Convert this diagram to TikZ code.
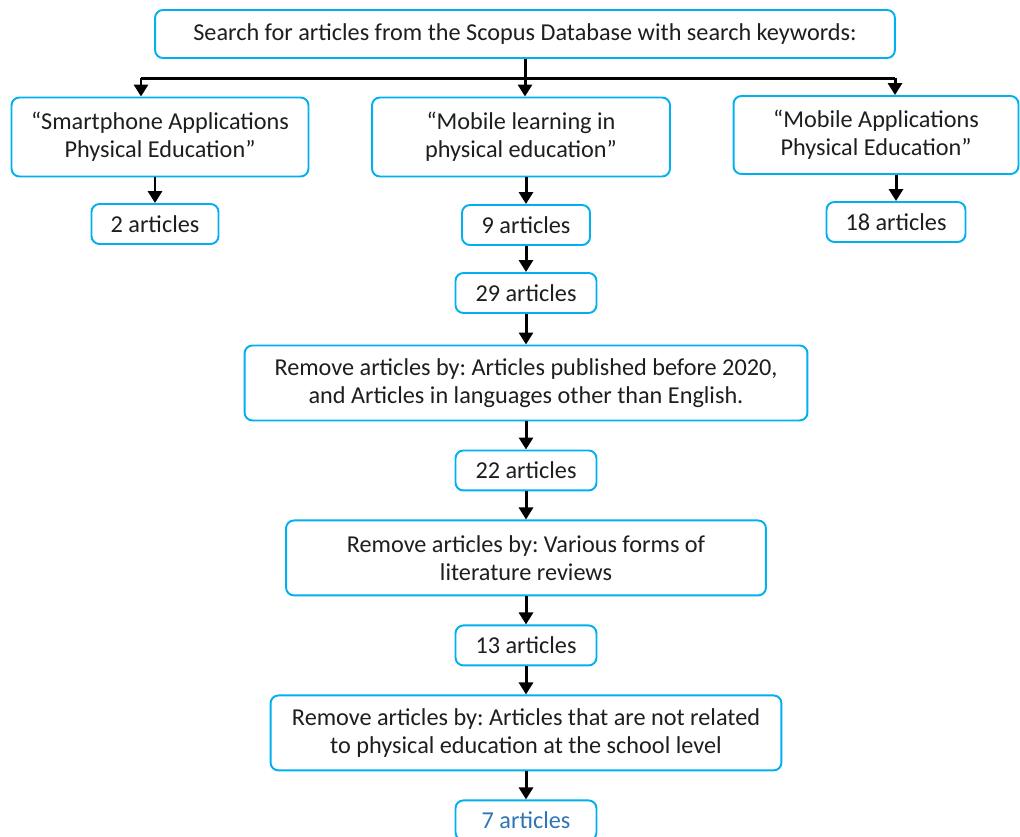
\documentclass[tikz,border=0pt]{standalone}
\usepackage{fontspec}
\setmainfont{Carlito}
\usetikzlibrary{arrows.meta,positioning}
\definecolor{boxcyan}{RGB}{0,176,240}
\definecolor{txtgray}{RGB}{30,30,30}
\definecolor{resultblue}{RGB}{46,117,182}
\frenchspacing
\begin{document}
\begin{tikzpicture}[
  x=0.02cm, y=-0.02cm,
  block/.style={rectangle, rounded corners=4.5pt, draw=boxcyan, line width=1.1pt, fill=white, align=center, text=txtgray, font=\fontsize{13.8}{16}\selectfont, inner sep=0pt},
  count/.style={block, minimum width=2.82cm, minimum height=0.8cm},
  filter/.style={block, minimum height=1.5cm},
  arrow/.style={-{Triangle[length=0.24cm,width=0.28cm]}, line width=1.7pt, black},
  node distance=1.75cm
]
\useasboundingbox (0,0) rectangle (1020,836);

\node[block, minimum width=14.8cm, minimum height=0.96cm] (search) at (525,34) {Search for articles from the Scopus Database with search keywords:};
\node[block, minimum width=5.94cm, minimum height=1.58cm] (kwleft) at (160,137) {“Smartphone Applications\\Physical Education”};
\node[block, minimum width=5.96cm, minimum height=1.58cm] (kwmid) at (521,137) {“Mobile learning in\\physical education”};
\node[block, minimum width=5.7cm, minimum height=1.56cm] (kwright) at (876,135) {“Mobile Applications\\Physical Education”};

\node[count, minimum width=2.54cm] (two) at (155,224) {2 articles};
\node[count, minimum width=2.56cm] (nine) at (526,225) {9 articles};
\node[count, minimum width=2.78cm] (eighteen) at (896,222) {18 articles};

\node[count, below of=nine, node distance=1.36cm] (twentynine) {29 articles};
\node[filter, minimum width=11.26cm, below of=twentynine, node distance=1.8cm] (filtyear) {Remove articles by: Articles published before 2020,\\and Articles in languages other than English.};
\node[count, below of=filtyear] (twentytwo) {22 articles};
\node[filter, minimum width=9.6cm, below of=twentytwo] (filtreview) {Remove articles by: Various forms of\\literature reviews};
\node[count, below of=filtreview] (thirteen) {13 articles};
\node[filter, minimum width=10.22cm, below of=thirteen] (filtschool) {Remove articles by: Articles that are not related\\to physical education at the school level};
\node[count, below of=filtschool, text=resultblue] (seven) {7 articles};

% branch to the three keyword searches
\coordinate (brleft) at (141,78);
\coordinate (brright) at (895,78);
\draw[line width=1.7pt] (brleft) -- (brright);
\draw[arrow] (search.south) -- (search.south |- kwmid.north);
\draw[arrow] (brleft) -- (brleft |- kwleft.north);
\draw[arrow] (brright) -- (brright |- kwright.north);

\draw[arrow] (two.north |- kwleft.south) -- (two);
\draw[arrow] (nine.north |- kwmid.south) -- (nine);
\draw[arrow] (eighteen.north |- kwright.south) -- (eighteen);

\draw[arrow] (nine) -- (twentynine);
\draw[arrow] (twentynine) -- (filtyear);
\draw[arrow] (filtyear) -- (twentytwo);
\draw[arrow] (twentytwo) -- (filtreview);
\draw[arrow] (filtreview) -- (thirteen);
\draw[arrow] (thirteen) -- (filtschool);
\draw[arrow] (filtschool) -- (seven);
\end{tikzpicture}
\end{document}
